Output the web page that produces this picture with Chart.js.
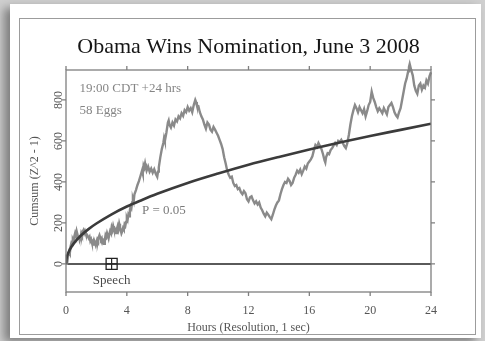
<!DOCTYPE html>
<html lang="en">
<head>
<meta charset="utf-8">
<title>Obama Wins Nomination, June 3 2008</title>
<script src="https://cdn.jsdelivr.net/npm/chart.js@4.4.1/dist/chart.umd.min.js"></script>
<style>
  html, body { margin: 0; padding: 0; }
  body {
    width: 485px; height: 341px; overflow: hidden; position: relative;
    background: #cfcfcf;
  }
  .card {
    position: absolute; left: 10px; top: 4px; width: 471px; height: 334px;
    background: #fff;
    box-shadow: -6px 4px 9px rgba(0, 0, 0, 0.4);
  }
  .frame {
    position: absolute; left: 19px; top: 18px; width: 455px; height: 315px;
    border: 1px solid #9c9c9c;
  }
  #chart { position: absolute; left: 0; top: 0; }
</style>
</head>
<body>
<div class="card"></div>
<div class="frame"></div>
<canvas id="chart" width="485" height="341"></canvas>
<script>
// cumulative deviation (hours, cumsum)
const hours = [
  0.00, 0.05, 0.10, 0.15, 0.20, 0.25, 0.30, 0.35, 0.40, 0.45, 0.50, 0.55, 0.60, 0.65, 0.70, 0.75,
  0.80, 0.85, 0.90, 0.95, 1.00, 1.05, 1.10, 1.15, 1.20, 1.25, 1.30, 1.35, 1.40, 1.50, 1.55, 1.60,
  1.65, 1.70, 1.75, 1.80, 1.85, 1.90, 1.95, 2.00, 2.05, 2.10, 2.15, 2.20, 2.25, 2.30, 2.35, 2.40,
  2.45, 2.50, 2.55, 2.60, 2.65, 2.70, 2.75, 2.80, 2.85, 2.90, 2.95, 3.00, 3.05, 3.10, 3.15, 3.20,
  3.25, 3.30, 3.35, 3.40, 3.45, 3.50, 3.55, 3.60, 3.65, 3.70, 3.75, 3.80, 3.85, 3.90, 3.95, 4.00,
  4.05, 4.10, 4.15, 4.20, 4.25, 4.30, 4.35, 4.40, 4.45, 4.50, 4.60, 4.70, 4.80, 4.90, 5.00, 5.05,
  5.10, 5.15, 5.20, 5.25, 5.30, 5.40, 5.50, 5.60, 5.70, 5.80, 5.90, 6.00, 6.05, 6.10, 6.20, 6.30,
  6.40, 6.45, 6.50, 6.60, 6.70, 6.75, 6.80, 6.90, 7.00, 7.10, 7.20, 7.30, 7.40, 7.50, 7.60, 7.70,
  7.80, 7.90, 8.00, 8.10, 8.20, 8.30, 8.40, 8.50, 8.55, 8.60, 8.70, 8.80, 8.90, 9.00, 9.10, 9.20,
  9.30, 9.40, 9.50, 9.60, 9.70, 9.80, 9.90, 10.00, 10.10, 10.20, 10.30, 10.40, 10.50, 10.60, 10.70, 10.80,
  10.90, 11.00, 11.10, 11.20, 11.30, 11.40, 11.50, 11.60, 11.70, 11.80, 11.90, 12.00, 12.10, 12.20, 12.30, 12.40,
  12.50, 12.60, 12.70, 12.80, 12.90, 13.00, 13.10, 13.20, 13.30, 13.40, 13.50, 13.60, 13.70, 13.80, 13.90, 14.00,
  14.10, 14.20, 14.30, 14.40, 14.50, 14.60, 14.70, 14.80, 14.90, 15.00, 15.10, 15.20, 15.30, 15.40, 15.50, 15.60,
  15.70, 15.80, 15.90, 16.00, 16.10, 16.20, 16.30, 16.40, 16.50, 16.60, 16.70, 16.80, 16.90, 17.00, 17.05, 17.10,
  17.20, 17.30, 17.40, 17.50, 17.60, 17.70, 17.80, 17.90, 18.00, 18.10, 18.20, 18.30, 18.40, 18.50, 18.60, 18.70,
  18.80, 18.90, 19.00, 19.10, 19.20, 19.30, 19.40, 19.50, 19.60, 19.70, 19.80, 19.90, 20.00, 20.10, 20.20, 20.30,
  20.40, 20.50, 20.60, 20.70, 20.80, 20.90, 21.00, 21.10, 21.20, 21.30, 21.40, 21.50, 21.60, 21.70, 21.80, 21.90,
  22.00, 22.10, 22.20, 22.30, 22.40, 22.50, 22.55, 22.60, 22.70, 22.80, 22.90, 23.00, 23.10, 23.20, 23.30, 23.40,
  23.50, 23.60, 23.70, 23.80, 23.90, 24.00
];
const cumsum = [
  0, 25, 18, 45, 60, 52, 85, 100, 92, 120, 112, 135, 150, 138, 160, 145,
  128, 140, 118, 130, 150, 140, 158, 165, 150, 160, 148, 135, 140, 125, 132, 112,
  120, 105, 98, 110, 95, 103, 92, 108, 120, 112, 130, 140, 128, 118, 125, 105,
  112, 98, 115, 140, 132, 150, 138, 125, 145, 160, 152, 178, 165, 185, 170, 158,
  165, 150, 172, 185, 170, 196, 180, 162, 150, 160, 175, 168, 192, 185, 205, 225,
  215, 240, 232, 262, 280, 272, 300, 318, 305, 340, 360, 385, 405, 430, 455, 440,
  480, 470, 490, 470, 455, 475, 450, 465, 445, 462, 440, 425, 450, 470, 520, 560,
  590, 615, 600, 640, 690, 700, 680, 665, 690, 675, 705, 695, 720, 710, 735, 722,
  750, 740, 765, 748, 760, 740, 775, 800, 790, 775, 770, 740, 720, 705, 680, 660,
  690, 680, 655, 645, 668, 655, 640, 625, 605, 585, 560, 520, 490, 455, 435, 420,
  425, 395, 380, 385, 365, 370, 350, 340, 355, 345, 315, 305, 325, 330, 310, 295,
  305, 290, 300, 275, 262, 245, 232, 250, 240, 228, 218, 240, 265, 285, 300, 310,
  340, 365, 385, 400, 395, 415, 405, 385, 395, 420, 435, 455, 445, 460, 438, 455,
  475, 465, 490, 500, 510, 525, 555, 580, 570, 590, 575, 560, 535, 505, 495, 520,
  540, 535, 555, 565, 578, 590, 580, 600, 595, 605, 590, 575, 565, 590, 630, 680,
  720, 750, 775, 760, 740, 765, 750, 735, 755, 720, 745, 775, 790, 840, 810, 790,
  765, 745, 760, 748, 735, 760, 745, 730, 765, 775, 785, 765, 740, 725, 715, 740,
  760, 800, 840, 880, 905, 940, 960, 975, 945, 920, 870, 845, 830, 870, 880, 850,
  870, 860, 895, 880, 915, 935
];
// P = 0.05 envelope
const pHours  = [0, 0.03, 0.1, 0.25, 0.5, 1, 1.5, 2, 3, 4, 5, 6, 8, 10, 12, 14, 16, 18, 20, 22, 24];
const pValues = [0, 24, 44, 70, 99, 140, 171, 197, 242, 280, 312, 342, 395, 441, 484, 522, 558, 592, 624, 654, 684];
const zeroHours = [0, 24];
const zeroValues = [0, 0];
const speechHour = 3;

const xTicks = [0, 4, 8, 12, 16, 20, 24];
const yTicks = [0, 200, 400, 600, 800];

const serif = '"Liberation Serif", "DejaVu Serif", "Times New Roman", serif';
Chart.defaults.font.family = serif;

const pts = (xs, ys) => xs.map((v, i) => ({ x: v, y: ys[i] }));

const frame = {
  id: 'frame',
  afterDatasetsDraw(chart) {
    const { ctx, chartArea: a, scales: { x, y } } = chart;
    ctx.save();
    ctx.strokeStyle = '#7f7f7f';
    ctx.lineWidth = 1.3;
    ctx.strokeRect(a.left, a.top, a.right - a.left, a.bottom - a.top);
    ctx.beginPath();
    x.ticks.forEach(t => {
      const px = x.getPixelForValue(t.value);
      ctx.moveTo(px, a.top); ctx.lineTo(px, a.top - 4);
      ctx.moveTo(px, a.bottom); ctx.lineTo(px, a.bottom + 4);
    });
    y.ticks.forEach(t => {
      const py = y.getPixelForValue(t.value);
      ctx.moveTo(a.right, py); ctx.lineTo(a.right + 4, py);
      ctx.moveTo(a.left, py); ctx.lineTo(a.left - 4, py);
    });
    ctx.stroke();

    // title, centred over the plot box
    ctx.textBaseline = 'middle';
    ctx.textAlign = 'center';
    ctx.font = '22px ' + serif;
    ctx.fillStyle = '#151515';
    ctx.fillText('Obama Wins Nomination, June 3 2008', (a.left + a.right) / 2, 47);

    // notes
    ctx.textAlign = 'left';
    ctx.font = '13px ' + serif;
    ctx.fillStyle = '#858585';
    ctx.fillText('19:00 CDT +24 hrs', a.left + 13.5, a.top + 18.5);
    ctx.fillText('58 Eggs', a.left + 13.5, a.top + 41);
    ctx.fillStyle = '#7a7a7a';
    ctx.fillText('P = 0.05', x.getPixelForValue(5), y.getPixelForValue(258));
    ctx.textAlign = 'center';
    ctx.fillStyle = '#4a4a4a';
    ctx.fillText('Speech', x.getPixelForValue(speechHour), y.getPixelForValue(0) + 16.5);
    ctx.restore();
  }
};

new Chart(document.getElementById('chart'), {
  type: 'line',
  plugins: [frame],
  data: {
    datasets: [
      { // speech marker: box
        data: [{ x: speechHour, y: 0 }],
        showLine: false, pointStyle: 'rect', pointRadius: 7.8,
        pointBorderColor: '#222', pointBackgroundColor: 'rgba(0,0,0,0)', pointBorderWidth: 1.3
      },
      { // speech marker: cross inside
        data: [{ x: speechHour, y: 0 }],
        showLine: false, pointStyle: 'cross', pointRadius: 5.5,
        pointBorderColor: '#222', pointBorderWidth: 1.2
      },
      {
        data: pts(pHours, pValues),
        borderColor: '#3b3b3b', borderWidth: 2.6, pointRadius: 0,
        cubicInterpolationMode: 'monotone'
      },
      {
        data: pts(hours, cumsum),
        borderColor: '#8a8a8a', borderWidth: 2.4, pointRadius: 0,
        tension: 0, clip: false
      },
      {
        data: pts(zeroHours, zeroValues),
        borderColor: '#5a5a5a', borderWidth: 2, pointRadius: 0
      }
    ]
  },
  options: {
    responsive: false,
    devicePixelRatio: 1,
    animation: false,
    events: [],
    layout: { padding: { left: 0, right: 54, top: 70, bottom: 0 } },
    plugins: {
      legend: { display: false },
      tooltip: { enabled: false },
      title: { display: false }
    },
    scales: {
      x: {
        type: 'linear', position: 'bottom', min: 0, max: 24,
        afterBuildTicks: s => { s.ticks = xTicks.map(v => ({ value: v })); },
        afterFit: s => { s.height = 49; s.paddingLeft = 0; s.paddingRight = 0; },
        grid: { display: false, drawTicks: false },
        border: { display: false },
        ticks: { color: '#555', font: { size: 12 }, padding: 12, maxRotation: 0 },
        title: {
          display: true, text: 'Hours (Resolution, 1 sec)', color: '#555',
          font: { size: 12, lineHeight: 1.2 }, padding: { top: 0, bottom: 6 }
        }
      },
      y: {
        type: 'linear', position: 'left', min: -137, max: 946,
        afterBuildTicks: s => { s.ticks = yTicks.map(v => ({ value: v })); },
        afterFit: s => { s.width = 66; s.paddingTop = 0; s.paddingBottom = 0; },
        grid: { display: false, drawTicks: false },
        border: { display: false },
        ticks: {
          color: '#555', font: { size: 12 }, padding: -2,
          minRotation: 90, maxRotation: 90, crossAlign: 'center'
        },
        title: {
          display: true, text: 'Cumsum (Z^2 - 1)', color: '#555',
          font: { size: 12, lineHeight: 1.2 }, padding: { top: 27.8, bottom: 0 }
        }
      }
    }
  }
});
</script>
</body>
</html>
